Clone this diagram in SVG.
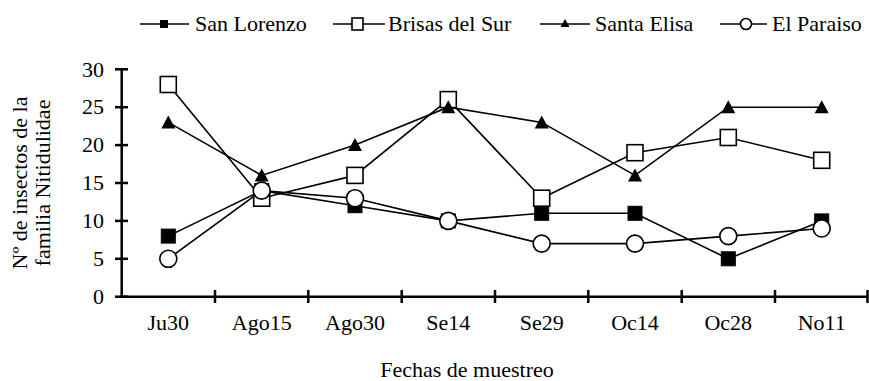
<svg xmlns="http://www.w3.org/2000/svg" width="869" height="381" viewBox="0 0 869 381">
<defs>
<style>
.t{font-family:'Liberation Serif','DejaVu Serif',serif;font-size:22px;fill:#000}
.ax{stroke:#000;stroke-width:2.5;fill:none}
.ln{stroke:#000;stroke-width:1.6;fill:none}
.fs{fill:#000;stroke:#000;stroke-width:1}
.os{fill:#fff;stroke:#000;stroke-width:1.6}
</style>
<rect id="sq" x="-7" y="-7" width="14" height="14"/>
<rect id="osq" x="-8" y="-8" width="16" height="16"/>
<polygon id="tri" points="0,-7 7,6 -7,6"/>
<circle id="cir" r="8.5"/>
</defs>
<rect width="869" height="381" fill="#fff"/>
<g id="legend">
<line class="ln" x1="140" y1="24" x2="189" y2="24"/><rect x="160" y="20" width="8" height="8" fill="#000"/>
<text class="t" x="195" y="31">San Lorenzo</text>
<line class="ln" x1="333" y1="24" x2="385" y2="24"/><rect x="352" y="18" width="11" height="12" class="os"/>
<text class="t" x="388" y="31">Brisas del Sur</text>
<line class="ln" x1="540" y1="24" x2="590" y2="24"/><polygon points="565,19 569.5,27 560.5,27" fill="#000"/>
<text class="t" x="595" y="31">Santa Elisa</text>
<line class="ln" x1="720" y1="24" x2="767" y2="24"/><circle cx="746" cy="24" r="5.5" class="os"/>
<text class="t" x="772" y="31">El Paraiso</text>
</g>
<g id="axes">
<line class="ax" x1="121.7" y1="69" x2="121.7" y2="297"/>
<line class="ax" x1="120.5" y1="296.7" x2="868" y2="296.7"/>
<g class="ax">
<line x1="115" y1="69.3" x2="128" y2="69.3"/><line x1="115" y1="107.2" x2="128" y2="107.2"/><line x1="115" y1="145.1" x2="128" y2="145.1"/><line x1="115" y1="183" x2="128" y2="183"/><line x1="115" y1="220.9" x2="128" y2="220.9"/><line x1="115" y1="258.8" x2="128" y2="258.8"/><line x1="115" y1="296.7" x2="128" y2="296.7"/>
<line x1="215" y1="290" x2="215" y2="303"/><line x1="308.3" y1="290" x2="308.3" y2="303"/><line x1="401.7" y1="290" x2="401.7" y2="303"/><line x1="495" y1="290" x2="495" y2="303"/><line x1="588.3" y1="290" x2="588.3" y2="303"/><line x1="681.7" y1="290" x2="681.7" y2="303"/><line x1="775" y1="290" x2="775" y2="303"/><line x1="867.5" y1="290" x2="867.5" y2="303"/>
</g>
<g text-anchor="end">
<text class="t" x="104" y="76.5">30</text><text class="t" x="104" y="114.4">25</text><text class="t" x="104" y="152.3">20</text><text class="t" x="104" y="190.2">15</text><text class="t" x="104" y="228.1">10</text><text class="t" x="104" y="266">5</text><text class="t" x="104" y="303.9">0</text>
</g>
<g text-anchor="middle">
<text class="t" x="168.3" y="330">Ju30</text><text class="t" x="261.7" y="330">Ago15</text><text class="t" x="355" y="330">Ago30</text><text class="t" x="448.3" y="330">Se14</text><text class="t" x="541.7" y="330">Se29</text><text class="t" x="635" y="330">Oc14</text><text class="t" x="728.3" y="330">Oc28</text><text class="t" x="821.7" y="330">No11</text>
<text class="t" x="467" y="377">Fechas de muestreo</text>
</g>
<g text-anchor="middle" transform="translate(0,183) rotate(-90)">
<text class="t" x="0" y="27">Nº de insectos de la</text>
<text class="t" x="0" y="50">familia Nitidulidae</text>
</g>
</g>
<g id="connectors">
<polyline id="line-sanlorenzo" class="ln" points="168.3,236.1 261.7,190.6 355,205.7 448.3,220.9 541.7,213.3 635,213.3 728.3,258.8 821.7,220.9"/>
<polyline id="line-brisas" class="ln" points="168.3,84.5 261.7,198.2 355,175.4 448.3,99.6 541.7,198.2 635,152.7 728.3,137.5 821.7,160.3"/>
<polyline id="line-santaelisa" class="ln" points="168.3,122.4 261.7,175.4 355,145.1 448.3,107.2 541.7,122.4 635,175.4 728.3,107.2 821.7,107.2"/>
<polyline id="line-elparaiso" class="ln" points="168.3,258.8 261.7,190.6 355,198.2 448.3,220.9 541.7,243.6 635,243.6 728.3,236.1 821.7,228.5"/>
</g>
<g id="san-lorenzo" class="fs">
<use href="#sq" x="168.3" y="236.1"/><use href="#sq" x="261.7" y="190.6"/><use href="#sq" x="355" y="205.7"/><use href="#sq" x="448.3" y="220.9"/><use href="#sq" x="541.7" y="213.3"/><use href="#sq" x="635" y="213.3"/><use href="#sq" x="728.3" y="258.8"/><use href="#sq" x="821.7" y="220.9"/>
</g>
<g id="brisas-del-sur" class="os">
<use href="#osq" x="168.3" y="84.5"/><use href="#osq" x="261.7" y="198.2"/><use href="#osq" x="355" y="175.4"/><use href="#osq" x="448.3" y="99.6"/><use href="#osq" x="541.7" y="198.2"/><use href="#osq" x="635" y="152.7"/><use href="#osq" x="728.3" y="137.5"/><use href="#osq" x="821.7" y="160.3"/>
</g>
<g id="santa-elisa" fill="#000">
<use href="#tri" x="168.3" y="122.4"/><use href="#tri" x="261.7" y="175.4"/><use href="#tri" x="355" y="145.1"/><use href="#tri" x="448.3" y="107.2"/><use href="#tri" x="541.7" y="122.4"/><use href="#tri" x="635" y="175.4"/><use href="#tri" x="728.3" y="107.2"/><use href="#tri" x="821.7" y="107.2"/>
</g>
<g id="el-paraiso" class="os">
<use href="#cir" x="168.3" y="258.8"/><use href="#cir" x="261.7" y="190.6"/><use href="#cir" x="355" y="198.2"/><use href="#cir" x="448.3" y="220.9"/><use href="#cir" x="541.7" y="243.6"/><use href="#cir" x="635" y="243.6"/><use href="#cir" x="728.3" y="236.1"/><use href="#cir" x="821.7" y="228.5"/>
</g>
</svg>
